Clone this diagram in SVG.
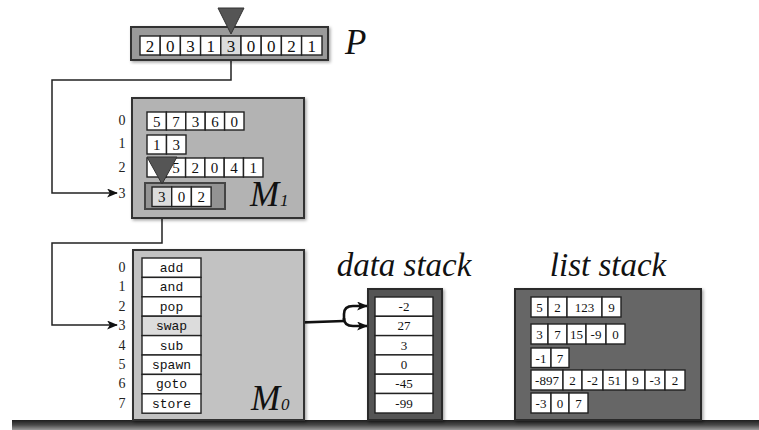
<svg xmlns="http://www.w3.org/2000/svg" width="759" height="430" viewBox="0 0 759 430">
  <defs>
    <marker id="arrow" viewBox="0 0 12 10" refX="11" refY="5" markerWidth="11" markerHeight="9" markerUnits="userSpaceOnUse" orient="auto">
      <path d="M0,0 L12,5 L0,10 L3,5 Z" fill="#111"/>
    </marker>
    <linearGradient id="ground" x1="0" y1="0" x2="0" y2="1">
      <stop offset="0" stop-color="#1e1e1e"/>
      <stop offset="0.5" stop-color="#4a4a4a"/>
      <stop offset="1" stop-color="#9a9a9a"/>
    </linearGradient>
    <filter id="shadow" x="-10%" y="-10%" width="125%" height="125%">
      <feDropShadow dx="1.5" dy="1.5" stdDeviation="1.5" flood-color="#000" flood-opacity="0.35"/>
    </filter>
  </defs>
  <style>
    .cell { fill: #fff; stroke: #222; stroke-width: 1.4; }
    .hl { fill: #dcdcdc; stroke: #222; stroke-width: 1.4; }
    .tape { font-family: Liberation Serif, Times New Roman, serif; font-size: 17px; fill: #111; text-anchor: middle; }
    .num { font-family: Liberation Serif, Times New Roman, serif; font-size: 15px; fill: #111; text-anchor: middle; }
    .small { font-family: Liberation Serif, Times New Roman, serif; font-size: 13px; fill: #111; text-anchor: middle; }
    .idx { font-family: Liberation Serif, Times New Roman, serif; font-size: 14px; fill: #222; text-anchor: middle; }
    .op { font-family: Liberation Mono, Courier New, monospace; font-size: 13px; fill: #111; text-anchor: middle; }
    .title { font-family: Liberation Serif, Times New Roman, serif; font-style: italic; font-size: 33px; fill: #111; text-anchor: middle; }
    .big { font-family: Liberation Serif, Times New Roman, serif; font-style: italic; font-size: 35px; fill: #111; }
    .sub { font-family: Liberation Serif, Times New Roman, serif; font-style: italic; font-size: 17px; fill: #111; }
    .wire { fill: none; stroke: #222; stroke-width: 1.5; }
    .thick { fill: none; stroke: #111; stroke-width: 2.6; }
  </style>

  <!-- ground -->
  <rect x="12" y="420" width="747" height="10" fill="url(#ground)"/>

  <!-- connectors -->
  <g id="connectors">
    <path class="wire" d="M231,60 V80 H52 V193 H117" marker-end="url(#arrow)"/>
    <path class="wire" d="M162,207 V243 H52 V325 H117" marker-end="url(#arrow)"/>
    <path class="thick" d="M201,326 L344,321"/>
    <path class="thick" d="M344,321 V314 Q344,306 353,306 H367" marker-end="url(#arrow)"/>
    <path class="thick" d="M344,321 V318 Q344,326 353,326 H367" marker-end="url(#arrow)"/>
  </g>

  <!-- program tape P -->
  <g id="program">
    <rect x="131" y="27" width="197" height="33" fill="#9a9a9a" stroke="#333" stroke-width="2" filter="url(#shadow)"/>
    <rect x="140" y="36" width="20.2" height="19" class="cell"/>
    <rect x="160.2" y="36" width="20.2" height="19" class="cell"/>
    <rect x="180.4" y="36" width="20.2" height="19" class="cell"/>
    <rect x="200.6" y="36" width="20.2" height="19" class="cell"/>
    <rect x="220.8" y="36" width="20.2" height="19" class="hl"/>
    <rect x="241" y="36" width="20.2" height="19" class="cell"/>
    <rect x="261.2" y="36" width="20.2" height="19" class="cell"/>
    <rect x="281.4" y="36" width="20.2" height="19" class="cell"/>
    <rect x="301.6" y="36" width="20.4" height="19" class="cell"/>
    <text class="tape" x="150.1" y="52">2</text>
    <text class="tape" x="170.3" y="52">0</text>
    <text class="tape" x="190.5" y="52">3</text>
    <text class="tape" x="210.7" y="52">1</text>
    <text class="tape" x="230.9" y="52">3</text>
    <text class="tape" x="251.1" y="52">0</text>
    <text class="tape" x="271.3" y="52">0</text>
    <text class="tape" x="291.5" y="52">2</text>
    <text class="tape" x="311.8" y="52">1</text>
    <polygon points="218,8 244,8 231,34" fill="#555" stroke="#333" stroke-width="1"/>
    <text class="big" x="345" y="54">P</text>
  </g>

  <!-- memory M1 -->
  <g id="m1">
    <rect x="132" y="98" width="172" height="120" fill="#b3b3b3" stroke="#333" stroke-width="2" filter="url(#shadow)"/>
    <text class="idx" x="122" y="125">0</text>
    <text class="idx" x="122" y="148">1</text>
    <text class="idx" x="122" y="172">2</text>
    <text class="idx" x="122" y="198">3</text>
    <!-- row 0 -->
    <rect x="147" y="112" width="19.4" height="18" class="cell"/>
    <rect x="166.4" y="112" width="19.4" height="18" class="cell"/>
    <rect x="185.8" y="112" width="19.4" height="18" class="cell"/>
    <rect x="205.2" y="112" width="19.4" height="18" class="cell"/>
    <rect x="224.6" y="112" width="19.4" height="18" class="cell"/>
    <text class="num" x="156.7" y="126.5">5</text>
    <text class="num" x="176.1" y="126.5">7</text>
    <text class="num" x="195.5" y="126.5">3</text>
    <text class="num" x="214.9" y="126.5">6</text>
    <text class="num" x="234.3" y="126.5">0</text>
    <!-- row 1 -->
    <rect x="147" y="135" width="19.5" height="19" class="cell"/>
    <rect x="166.5" y="135" width="19.5" height="19" class="cell"/>
    <text class="num" x="156.7" y="150">1</text>
    <text class="num" x="176.2" y="150">3</text>
    <!-- row 2 -->
    <rect x="147" y="158" width="19.3" height="19" class="cell"/>
    <rect x="166.3" y="158" width="19.3" height="19" class="cell"/>
    <rect x="185.6" y="158" width="19.3" height="19" class="cell"/>
    <rect x="204.9" y="158" width="19.3" height="19" class="cell"/>
    <rect x="224.2" y="158" width="19.3" height="19" class="cell"/>
    <rect x="243.5" y="158" width="19.5" height="19" class="cell"/>
    <text class="num" x="176" y="173">5</text>
    <text class="num" x="195.3" y="173">2</text>
    <text class="num" x="214.6" y="173">0</text>
    <text class="num" x="233.9" y="173">4</text>
    <text class="num" x="253.2" y="173">1</text>
    <!-- row 3 (current list) -->
    <rect x="145" y="183" width="80" height="26" fill="#939393" stroke="#444" stroke-width="2"/>
    <rect x="152" y="187" width="19.7" height="19.5" class="hl"/>
    <rect x="171.7" y="187" width="19.7" height="19.5" class="cell"/>
    <rect x="191.4" y="187" width="19.7" height="19.5" class="cell"/>
    <text class="num" x="161.8" y="202">3</text>
    <text class="num" x="181.5" y="202">0</text>
    <text class="num" x="201.2" y="202">2</text>
    <polygon points="147,157 177,157 162,184" fill="#555" stroke="#333" stroke-width="1"/>
    <text class="big" x="250" y="206">M</text>
    <text class="sub" x="280" y="206">1</text>
  </g>

  <!-- memory M0 -->
  <g id="m0">
    <rect x="133" y="250" width="171" height="170" fill="#c2c2c2" stroke="#333" stroke-width="2" filter="url(#shadow)"/>
    <text class="idx" x="122" y="272">0</text>
    <text class="idx" x="122" y="291.4">1</text>
    <text class="idx" x="122" y="310.8">2</text>
    <text class="idx" x="122" y="330.2">3</text>
    <text class="idx" x="122" y="349.6">4</text>
    <text class="idx" x="122" y="369">5</text>
    <text class="idx" x="122" y="388.4">6</text>
    <text class="idx" x="122" y="407.8">7</text>
    <rect x="142" y="258" width="59" height="19.4" class="cell"/>
    <rect x="142" y="277.4" width="59" height="19.4" class="cell"/>
    <rect x="142" y="296.8" width="59" height="19.4" class="cell"/>
    <rect x="142" y="316.2" width="59" height="19.4" class="hl"/>
    <rect x="142" y="335.6" width="59" height="19.4" class="cell"/>
    <rect x="142" y="355" width="59" height="19.4" class="cell"/>
    <rect x="142" y="374.4" width="59" height="19.4" class="cell"/>
    <rect x="142" y="393.8" width="59" height="19.4" class="cell"/>
    <text class="op" x="171.5" y="272">add</text>
    <text class="op" x="171.5" y="291.4">and</text>
    <text class="op" x="171.5" y="310.8">pop</text>
    <text class="op" x="171.5" y="330.2">swap</text>
    <text class="op" x="171.5" y="349.6">sub</text>
    <text class="op" x="171.5" y="369">spawn</text>
    <text class="op" x="171.5" y="388.4">goto</text>
    <text class="op" x="171.5" y="407.8">store</text>
    <text class="big" x="251" y="410">M</text>
    <text class="sub" x="281" y="410">0</text>
  </g>

  <!-- data stack -->
  <g id="data-stack">
    <text class="title" x="404" y="276">data stack</text>
    <rect x="368" y="289" width="74" height="131" fill="#555" stroke="#2a2a2a" stroke-width="2" filter="url(#shadow)"/>
    <rect x="375" y="297" width="58" height="19.3" class="cell"/>
    <rect x="375" y="316.3" width="58" height="19.3" class="cell"/>
    <rect x="375" y="335.6" width="58" height="19.3" class="cell"/>
    <rect x="375" y="354.9" width="58" height="19.3" class="cell"/>
    <rect x="375" y="374.2" width="58" height="19.3" class="cell"/>
    <rect x="375" y="393.5" width="58" height="19.5" class="cell"/>
    <text class="small" x="404" y="311">-2</text>
    <text class="small" x="404" y="330.3">27</text>
    <text class="small" x="404" y="349.6">3</text>
    <text class="small" x="404" y="368.9">0</text>
    <text class="small" x="404" y="388.2">-45</text>
    <text class="small" x="404" y="407.5">-99</text>
  </g>

  <!-- list stack -->
  <g id="list-stack">
    <text class="title" x="608" y="276">list stack</text>
    <rect x="515" y="289" width="186" height="131" fill="#666" stroke="#2a2a2a" stroke-width="2" filter="url(#shadow)"/>
    <!-- 5 2 123 9 -->
    <rect x="531" y="297" width="17" height="20" class="cell"/>
    <rect x="548" y="297" width="19" height="20" class="cell"/>
    <rect x="567" y="297" width="35" height="20" class="cell"/>
    <rect x="602" y="297" width="19" height="20" class="cell"/>
    <text class="small" x="539.5" y="312">5</text>
    <text class="small" x="557.5" y="312">2</text>
    <text class="small" x="584.5" y="312">123</text>
    <text class="small" x="611.5" y="312">9</text>
    <!-- 3 7 15 -9 0 -->
    <rect x="531" y="324" width="17" height="20" class="cell"/>
    <rect x="548" y="324" width="19" height="20" class="cell"/>
    <rect x="567" y="324" width="19" height="20" class="cell"/>
    <rect x="586" y="324" width="20" height="20" class="cell"/>
    <rect x="606" y="324" width="19" height="20" class="cell"/>
    <text class="small" x="539.5" y="339">3</text>
    <text class="small" x="557.5" y="339">7</text>
    <text class="small" x="576.5" y="339">15</text>
    <text class="small" x="596" y="339">-9</text>
    <text class="small" x="615.5" y="339">0</text>
    <!-- -1 7 -->
    <rect x="531" y="348" width="20" height="19.5" class="cell"/>
    <rect x="551" y="348" width="18" height="19.5" class="cell"/>
    <text class="small" x="541" y="362.5">-1</text>
    <text class="small" x="560" y="362.5">7</text>
    <!-- -897 2 -2 51 9 -3 2 -->
    <rect x="531" y="370" width="32" height="20" class="cell"/>
    <rect x="563" y="370" width="19" height="20" class="cell"/>
    <rect x="582" y="370" width="21" height="20" class="cell"/>
    <rect x="603" y="370" width="23" height="20" class="cell"/>
    <rect x="626" y="370" width="19" height="20" class="cell"/>
    <rect x="645" y="370" width="20" height="20" class="cell"/>
    <rect x="665" y="370" width="20" height="20" class="cell"/>
    <text class="small" x="547" y="385">-897</text>
    <text class="small" x="572.5" y="385">2</text>
    <text class="small" x="592.5" y="385">-2</text>
    <text class="small" x="614.5" y="385">51</text>
    <text class="small" x="635.5" y="385">9</text>
    <text class="small" x="655" y="385">-3</text>
    <text class="small" x="675" y="385">2</text>
    <!-- -3 0 7 -->
    <rect x="531" y="393" width="20" height="20" class="cell"/>
    <rect x="551" y="393" width="18" height="20" class="cell"/>
    <rect x="569" y="393" width="19" height="20" class="cell"/>
    <text class="small" x="541" y="408">-3</text>
    <text class="small" x="560" y="408">0</text>
    <text class="small" x="578.5" y="408">7</text>
  </g>
</svg>
